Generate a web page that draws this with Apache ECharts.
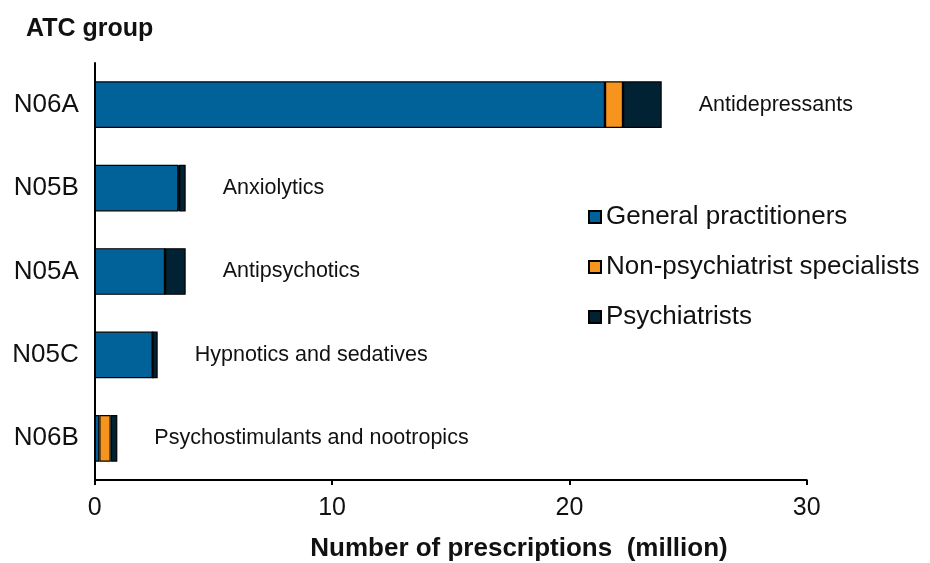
<!DOCTYPE html>
<html>
<head>
<meta charset="utf-8">
<style>html,body{margin:0;padding:0;background:#fff;}#c{width:930px;height:563px;}</style>
<script src="https://cdn.jsdelivr.net/npm/echarts@6/dist/echarts.min.js"></script>
</head>
<body>
<div id="c"></div>
<script>
const categories = ['N06A', 'N05B', 'N05A', 'N05C', 'N06B'];
const groupNames = ['Antidepressants', 'Anxiolytics', 'Antipsychotics', 'Hypnotics and sedatives', 'Psychostimulants and nootropics'];
const generalPractitioners = [21.5, 3.52, 2.96, 2.44, 0.19];
const nonPsychiatristSpecialists = [0.76, 0.03, 0.0, 0.0, 0.48];
const psychiatrists = [1.63, 0.28, 0.87, 0.21, 0.28];
const xTicks = [0, 10, 20, 30];
const xAxisTitle = 'Number of prescriptions  (million)';

const chart = echarts.init(document.getElementById('c'), null, {renderer: 'canvas'});
const font = 'Liberation Sans, Arial, sans-serif';
const bar = (name, data, color, withLabel) => ({
  name, type: 'bar', stack: 'total', data,
  barCategoryGap: '44%',
  itemStyle: {color, borderColor: '#000', borderWidth: 1.2},
  label: withLabel ? {
    show: true, position: 'right', distance: 37,
    formatter: p => groupNames[p.dataIndex],
    fontFamily: font, fontSize: 21.5, color: '#111'
  } : {show: false}
});
chart.setOption({
  animation: false,
  title: {text: 'ATC group', left: 21, top: 12,
    textStyle: {fontFamily: font, fontSize: 25, fontWeight: 'bold', color: '#111'}},
  legend: {
    orient: 'vertical', left: 583, top: 199, itemWidth: 12, itemHeight: 12, itemGap: 24,
    icon: 'rect',
    textStyle: {fontFamily: font, fontSize: 26, color: '#111'},
    data: ['General practitioners', 'Non-psychiatrist specialists', 'Psychiatrists']
  },
  grid: {left: 94.8, right: 123.3, top: 63, bottom: 83, containLabel: false},
  xAxis: {
    type: 'value', min: xTicks[0], max: xTicks[xTicks.length - 1], interval: 10,
    axisLine: {show: true, lineStyle: {color: '#000', width: 2}},
    axisTick: {show: true, length: 5, lineStyle: {color: '#000', width: 2}},
    splitLine: {show: false},
    axisLabel: {margin: 16, fontFamily: font, fontSize: 25, color: '#111'}
  },
  yAxis: {
    type: 'category', data: categories, inverse: true,
    axisLine: {show: true, lineStyle: {color: '#000', width: 2}},
    axisTick: {show: false},
    axisLabel: {margin: 16, fontFamily: font, fontSize: 26, color: '#111'}
  },
  graphic: [{
    type: 'text', x: 519, y: 536,
    style: {text: xAxisTitle, fontFamily: font, fontSize: 26, fontWeight: 'bold', fill: '#111', textAlign: 'center', textVerticalAlign: 'top'}
  }],
  series: [
    bar('General practitioners', generalPractitioners, '#006298', false),
    bar('Non-psychiatrist specialists', nonPsychiatristSpecialists, '#F7941D', false),
    bar('Psychiatrists', psychiatrists, '#012233', true)
  ]
});
</script>
</body>
</html>
